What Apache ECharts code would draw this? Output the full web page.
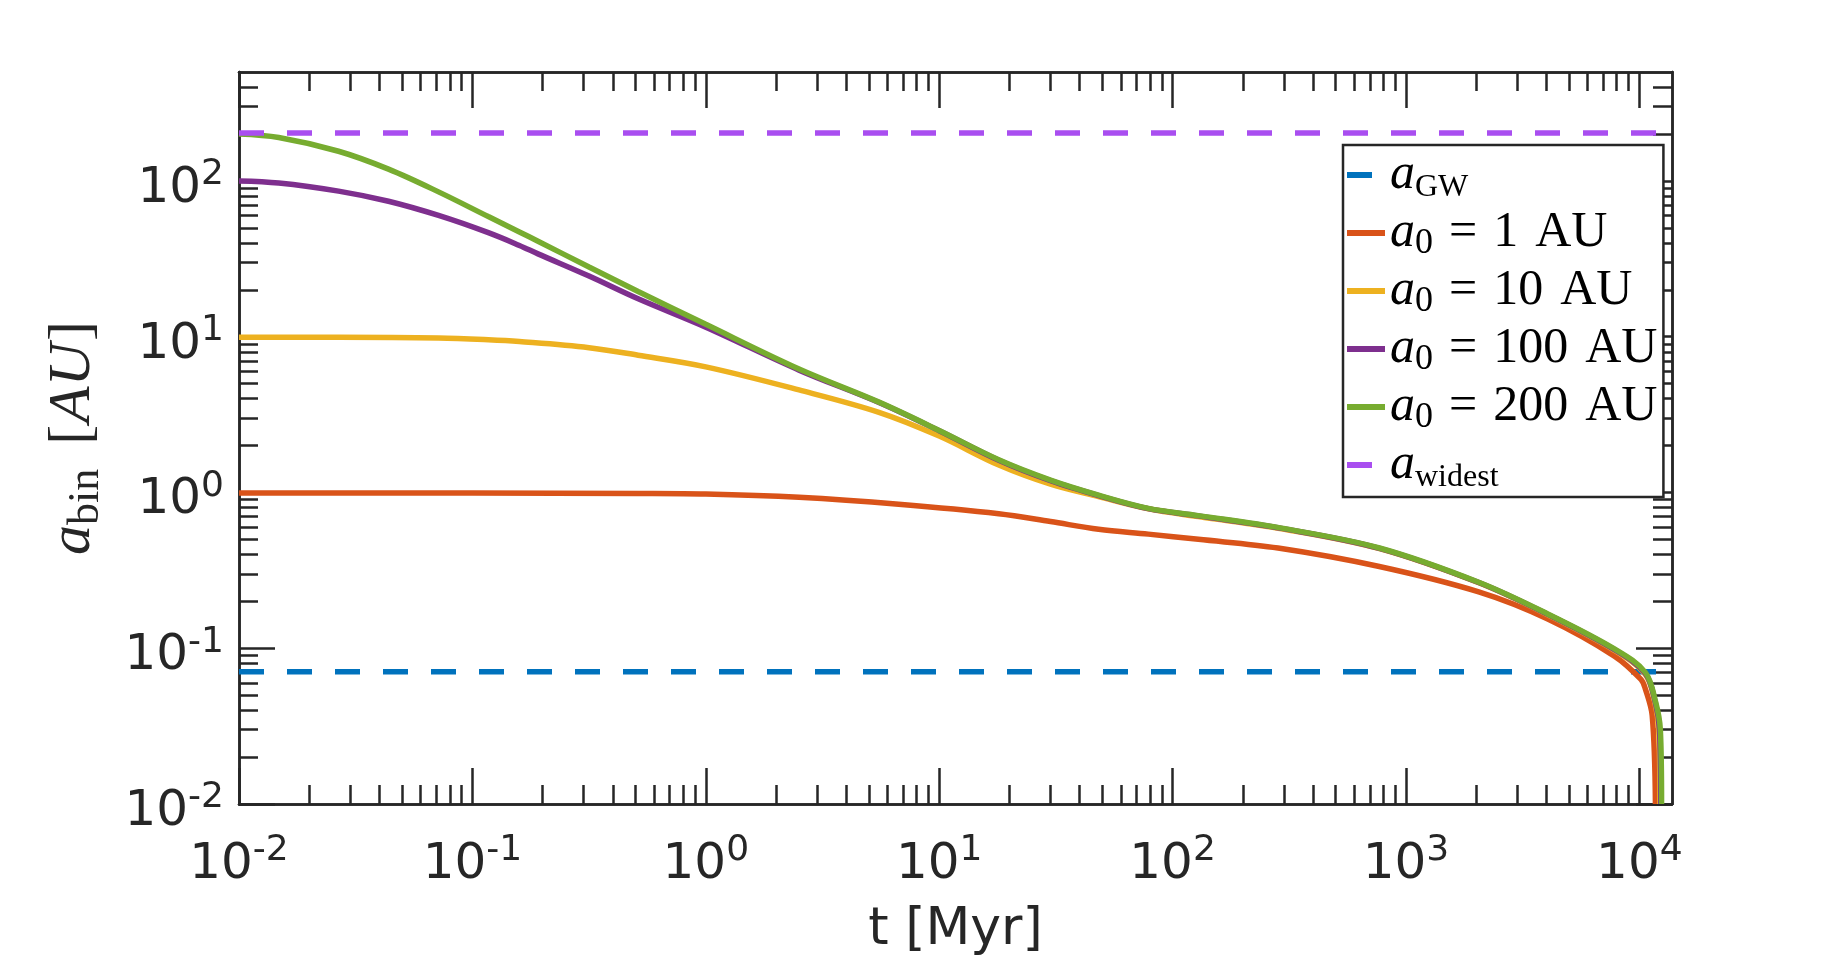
<!DOCTYPE html>
<html>
<head>
<meta charset="utf-8">
<title>a_bin vs t</title>
<script src="https://cdn.jsdelivr.net/npm/echarts@6/dist/echarts.min.js"></script>
<style>
  html, body { margin: 0; padding: 0; background: #fff; }
  #chart { width: 1848px; height: 961px; }
</style>
</head>
<body>
<div id="chart"></div>
<script>
// values: t in Myr, a in AU
var xMajor = [0.01, 0.1, 1, 10, 100, 1000, 10000];
var yMajor = [0.01, 0.1, 1, 10, 100];

var aGW = 0.0705;
var aWidest = 203;
var tLine = [0.01, 11800];

var tRed = [0.01, 0.1, 0.513, 1.0, 2.51, 6.71, 18.0, 30, 48.2, 78.7, 129, 283, 760, 2050, 4050, 7820, 10160, 10600, 11350, 11720];
var aRed = [0.99, 0.99, 0.985, 0.977, 0.93, 0.84, 0.73, 0.65, 0.58, 0.54, 0.50, 0.44, 0.336, 0.23, 0.154, 0.089, 0.063, 0.055, 0.037, 0.01];

var tYellow = [0.01, 0.0267, 0.0716, 0.117, 0.159, 0.316, 0.513, 1.0, 2.51, 5.52, 10, 18.0, 30, 48.2, 78.7, 129, 293, 770, 2050, 4050, 7820, 10600, 11650, 12100, 12250];
var aYellow = [9.9, 9.9, 9.8, 9.55, 9.3, 8.5, 7.6, 6.4, 4.55, 3.27, 2.3, 1.5, 1.13, 0.94, 0.785, 0.70, 0.585, 0.436, 0.263, 0.164, 0.097, 0.068, 0.045, 0.03, 0.01];

var tPurple = [0.01, 0.0148, 0.0267, 0.0437, 0.0716, 0.117, 0.159, 0.191, 0.316, 0.513, 1.0, 2.51, 5.52, 10, 18.0, 30, 48.2, 78.7, 129, 293, 770, 2050, 4050, 7820, 10600, 11700, 12200, 12350];
var aPurple = [100, 97, 86, 74, 60, 46.5, 38.5, 34, 24.5, 17.5, 11.5, 6.1, 3.78, 2.49, 1.61, 1.19, 0.955, 0.787, 0.707, 0.588, 0.438, 0.264, 0.165, 0.098, 0.069, 0.045, 0.03, 0.01];

var tGreen = [0.01, 0.0148, 0.0267, 0.0437, 0.0716, 0.117, 0.159, 0.191, 0.316, 0.513, 1.0, 2.51, 5.52, 10, 18.0, 30, 48.2, 78.7, 129, 293, 770, 2050, 4050, 7820, 10600, 11750, 12300, 12450];
var aGreen = [200, 190, 155, 119, 85, 59, 47, 41, 28, 19.5, 12.0, 6.2, 3.8, 2.5, 1.62, 1.2, 0.96, 0.79, 0.71, 0.59, 0.44, 0.265, 0.166, 0.099, 0.07, 0.045, 0.03, 0.01];

var names = ['a_GW', 'a0 = 1 AU', 'a0 = 10 AU', 'a0 = 100 AU', 'a0 = 200 AU', 'a_widest'];
var colors = ['#0072BD', '#D95319', '#EDB120', '#7E2F8E', '#77AC30', '#A94EF0'];

var frame = '#262626';
var xMin = 0.01, xMax = 13800, yMin = 0.01, yMax = 500;

function minors(fromExp, toExp, top) {
  var out = [];
  for (var e = fromExp; e <= toExp; e++) {
    for (var k = 2; k <= 9; k++) {
      var v = k * Math.pow(10, e);
      if (v < top) out.push(v);
    }
  }
  return out;
}
var xMinor = minors(-2, 4, xMax);
var yMinor = minors(-2, 2, yMax);

function pairs(t, a) {
  return t.map(function (v, i) { return [v, a[i]]; });
}

function powLabel(v) {
  return '{b|10}{s|' + Math.round(Math.log10(v)) + '}';
}
var tickRich = {
  b: { fontFamily: 'DejaVu Sans', fontSize: 50, color: frame, lineHeight: 64 },
  s: { fontFamily: 'DejaVu Sans', fontSize: 36, color: frame, lineHeight: 24, verticalAlign: 'top' }
};

function axis(kind, pos, min, max, vals, len, label) {
  var a = {
    type: 'log', logBase: 10, min: min, max: max, position: pos,
    axisLine: { show: true, onZero: false, lineStyle: { color: frame, width: 2.5 } },
    axisTick: { show: true, inside: true, length: len, customValues: vals,
                lineStyle: { color: frame, width: 2.5 } },
    axisLabel: { show: false },
    splitLine: { show: false },
    minorTick: { show: false },
    minorSplitLine: { show: false }
  };
  if (label) {
    a.axisLabel = {
      show: true, customValues: vals, formatter: powLabel, rich: tickRich,
      margin: kind === 'x' ? 29 : 15,
      padding: kind === 'x' ? 0 : [16, 0, 0, 0]
    };
  }
  return a;
}

var xAxes = [
  axis('x', 'bottom', xMin, xMax, xMajor, 36, true),
  axis('x', 'bottom', xMin, xMax, xMinor, 19, false),
  axis('x', 'top', xMin, xMax, xMajor, 36, false),
  axis('x', 'top', xMin, xMax, xMinor, 19, false)
];
xAxes[0].name = 't [Myr]';
xAxes[0].nameLocation = 'middle';
xAxes[0].nameGap = 100;
xAxes[0].nameTextStyle = { fontFamily: 'DejaVu Sans', fontSize: 52, color: frame };

var serif = 'Liberation Serif';
var yAxes = [
  axis('y', 'left', yMin, yMax, yMajor, 36, true),
  axis('y', 'left', yMin, yMax, yMinor, 19, false),
  axis('y', 'right', yMin, yMax, yMajor, 36, false),
  axis('y', 'right', yMin, yMax, yMinor, 19, false)
];
yAxes[0].name = '{i|a}{s|bin}{lb|[}{i|AU}{rb|]}';
yAxes[0].nameLocation = 'middle';
yAxes[0].nameGap = 131;
yAxes[0].nameRotate = 90;
yAxes[0].nameTextStyle = {
  color: frame,
  rich: {
    i: { fontFamily: serif, fontStyle: 'italic', fontSize: 60, lineHeight: 70, color: frame },
    s: { fontFamily: serif, fontSize: 44, lineHeight: 48, verticalAlign: 'bottom', color: frame },
    lb: { fontFamily: serif, fontSize: 60, lineHeight: 70, color: frame, padding: [0, 2, 0, 24] },
    rb: { fontFamily: serif, fontSize: 60, lineHeight: 70, color: frame, padding: [0, 0, 0, 2] }
  }
};

var legendText = {
  'a_GW': '{i|a}{st|GW}',
  'a0 = 1 AU': '{i|a}{sn|0}{eq|=}{num|1}{au|AU}',
  'a0 = 10 AU': '{i|a}{sn|0}{eq|=}{num|10}{au|AU}',
  'a0 = 100 AU': '{i|a}{sn|0}{eq|=}{num|100}{au|AU}',
  'a0 = 200 AU': '{i|a}{sn|0}{eq|=}{num|200}{au|AU}',
  'a_widest': '{i|a}{st|widest}'
};
var legendRich = {
  i: { fontFamily: serif, fontStyle: 'italic', fontSize: 50, lineHeight: 58, color: '#000' },
  sn: { fontFamily: serif, fontSize: 36, lineHeight: 36, verticalAlign: 'bottom', color: '#000' },
  st: { fontFamily: serif, fontSize: 32, lineHeight: 34, verticalAlign: 'bottom', color: '#000' },
  eq: { fontFamily: serif, fontSize: 50, lineHeight: 58, color: '#000', padding: [0, 0, 0, 16] },
  num: { fontFamily: serif, fontSize: 50, lineHeight: 58, color: '#000', padding: [0, 0, 0, 16] },
  au: { fontFamily: serif, fontSize: 50, lineHeight: 58, color: '#000', padding: [0, 0, 0, 17] }
};
var dashIcon = 'path://M0,0H25V6H0Z M38,0 M38,6';
var solidIcon = 'path://M0,0H38V6H0Z';

function lineSeries(name, data, color, dashed) {
  return {
    name: name, type: 'line', data: data,
    symbol: 'none', showSymbol: false,
    smooth: dashed ? false : 0.35,
    clip: true,
    lineStyle: { color: color, width: 5.5, type: dashed ? [25, 23] : 'solid' },
    itemStyle: { color: color }
  };
}

var series = [
  lineSeries(names[0], pairs(tLine, [aGW, aGW]), colors[0], true),
  lineSeries(names[1], pairs(tRed, aRed), colors[1], false),
  lineSeries(names[2], pairs(tYellow, aYellow), colors[2], false),
  lineSeries(names[3], pairs(tPurple, aPurple), colors[3], false),
  lineSeries(names[4], pairs(tGreen, aGreen), colors[4], false),
  lineSeries(names[5], pairs(tLine, [aWidest, aWidest]), colors[5], true)
];

var chart = echarts.init(document.getElementById('chart'));
chart.setOption({
  animation: false,
  backgroundColor: '#fff',
  grid: { left: 239, top: 72, right: 176, bottom: 157, containLabel: false, outerBoundsMode: 'none' },
  xAxis: xAxes,
  yAxis: yAxes,
  legend: {
    orient: 'vertical', left: 1343, top: 145, align: 'left',
    padding: [5, 6, 3, 4], itemGap: 4, itemWidth: 38, itemHeight: 6,
    backgroundColor: '#fff', borderColor: frame, borderWidth: 2.5, borderRadius: 0,
    selectedMode: false,
    data: names.map(function (n, i) {
      return { name: n, icon: (i === 0 || i === 5) ? dashIcon : solidIcon };
    }),
    formatter: function (n) { return legendText[n]; },
    textStyle: { rich: legendRich }
  },
  series: series
});
</script>
</body>
</html>
